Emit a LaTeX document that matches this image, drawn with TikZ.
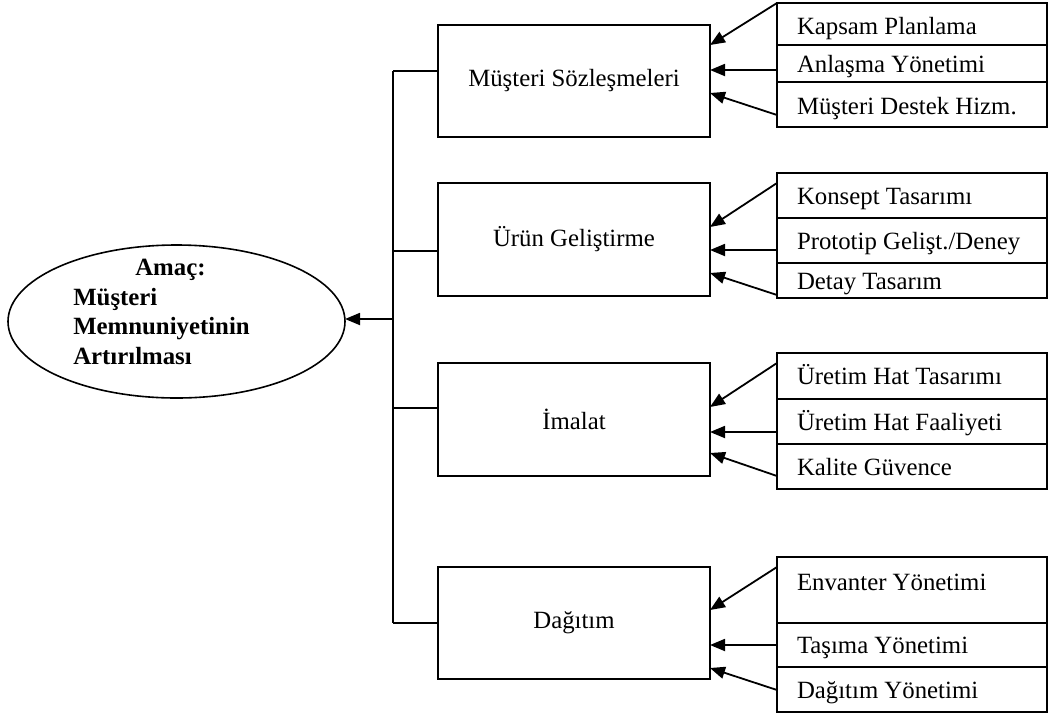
\documentclass[tikz,border=0pt]{standalone}
\usepackage{fontspec}
\setmainfont{Liberation Serif}
\usetikzlibrary{arrows.meta,shapes.geometric}
\begin{document}
\begin{tikzpicture}[x=0.5pt,y=-0.5pt,
  every node/.style={font=\fontsize{12.4}{14.7}\selectfont},
  line/.style={line width=0.9pt},
  arr/.style={line width=0.9pt,-{Triangle[length=7.5pt,width=6pt]}},
  mainbox/.style={draw,line width=0.9pt,rectangle,minimum width=136pt,
    minimum height=#1,inner sep=0pt,outer sep=0pt},
  subbox/.style={draw,line width=0.9pt,rectangle,minimum width=135pt,
    minimum height=#1,text width=115pt,align=flush left,inner xsep=10pt,
    inner ysep=0pt,outer sep=0pt,text height=0.9em,text depth=0.02em},
  goalshape/.style={draw,line width=0.8pt,ellipse,minimum width=168.5pt,
    minimum height=76.5pt,inner sep=0pt,outer sep=0pt}]
\useasboundingbox (0,0) rectangle (1057,714);

% goal
\node[goalshape] (goal) at (176.5,321.5) {};
\node[font=\fontsize{12.4}{14.7}\selectfont\bfseries,align=flush left,inner sep=0pt]
  (goaltext) at (161.5,312) {\hspace*{31pt}Amaç:\\Müşteri\\Memnuniyetinin\\Artırılması};

% main areas
\node[mainbox=56pt]   (ms) at (574,81)    {Müşteri Sözleşmeleri};
\node[mainbox=56.5pt] (ug) at (574,239.5) {Ürün Geliştirme};
\node[mainbox=56.5pt] (im) at (574,419.5) {İmalat};
\node[mainbox=56pt]   (dg) at (574,623)   {Dağıtım};

% sub activities
\node[subbox=21pt,text height=1.05em,text depth=0em]   (k1) at (912,24)    {Kapsam Planlama};
\node[subbox=18.5pt] (k2) at (912,63.5)  {Anlaşma Yönetimi};
\node[subbox=22.5pt,text height=1.0em,text depth=0em] (k3) at (912,104.5) {Müşteri Destek Hizm.};

\node[subbox=22.5pt] (u1) at (912,195.5) {Konsept Tasarımı};
\node[subbox=22.5pt] (u2) at (912,240.5) {Prototip Gelişt./Deney};
\node[subbox=17.5pt] (u3) at (912,280.5) {Detay Tasarım};

\node[subbox=23pt]   (i1) at (912,376)   {Üretim Hat Tasarımı};
\node[subbox=22.5pt] (i2) at (912,421.5) {Üretim Hat Faaliyeti};
\node[subbox=22.5pt] (i3) at (912,466.5) {Kalite Güvence};

\node[subbox=33pt,text height=0.7em,text depth=0.62em] (d1) at (912,590) {Envanter Yönetimi};
\node[subbox=22pt]   (d2) at (912,645)   {Taşıma Yönetimi};
\node[subbox=22.5pt] (d3) at (912,689.5) {Dağıtım Yönetimi};

% trunk joining the areas to the goal
\coordinate (t1) at (393,71);
\coordinate (t2) at (393,251);
\coordinate (t3) at (393,408);
\coordinate (t4) at (393,623);
\coordinate (tm) at (393,319);
\draw[line] (t1) -- (t4);
\draw[line] (t1) -- (ms.west |- t1);
\draw[line] (t2) -- (ug.west |- t2);
\draw[line] (t3) -- (im.west |- t3);
\draw[line] (t4) -- (dg.west |- t4);
\draw[arr] (tm) -- (goal.east |- tm);

% sub activities feeding the areas
\draw[arr] (k1.north west)   -- (ms.east |- 0,45);
\draw[arr] (k2.west |- 0,70) -- (ms.east |- 0,70);
\draw[arr] (k3.west |- 0,115) -- (ms.east |- 0,93);

\draw[arr] (u1.west |- 0,183) -- (ug.east |- 0,227);
\draw[arr] (u2.west |- 0,250) -- (ug.east |- 0,250);
\draw[arr] (u3.west |- 0,295) -- (ug.east |- 0,273);

\draw[arr] (i1.west |- 0,363) -- (im.east |- 0,407);
\draw[arr] (i2.west |- 0,432) -- (im.east |- 0,432);
\draw[arr] (i3.west |- 0,476) -- (im.east |- 0,453);

\draw[arr] (d1.west |- 0,567) -- (dg.east |- 0,610);
\draw[arr] (d2.west |- 0,645) -- (dg.east |- 0,645);
\draw[arr] (d3.west |- 0,690) -- (dg.east |- 0,668);
\end{tikzpicture}
\end{document}
